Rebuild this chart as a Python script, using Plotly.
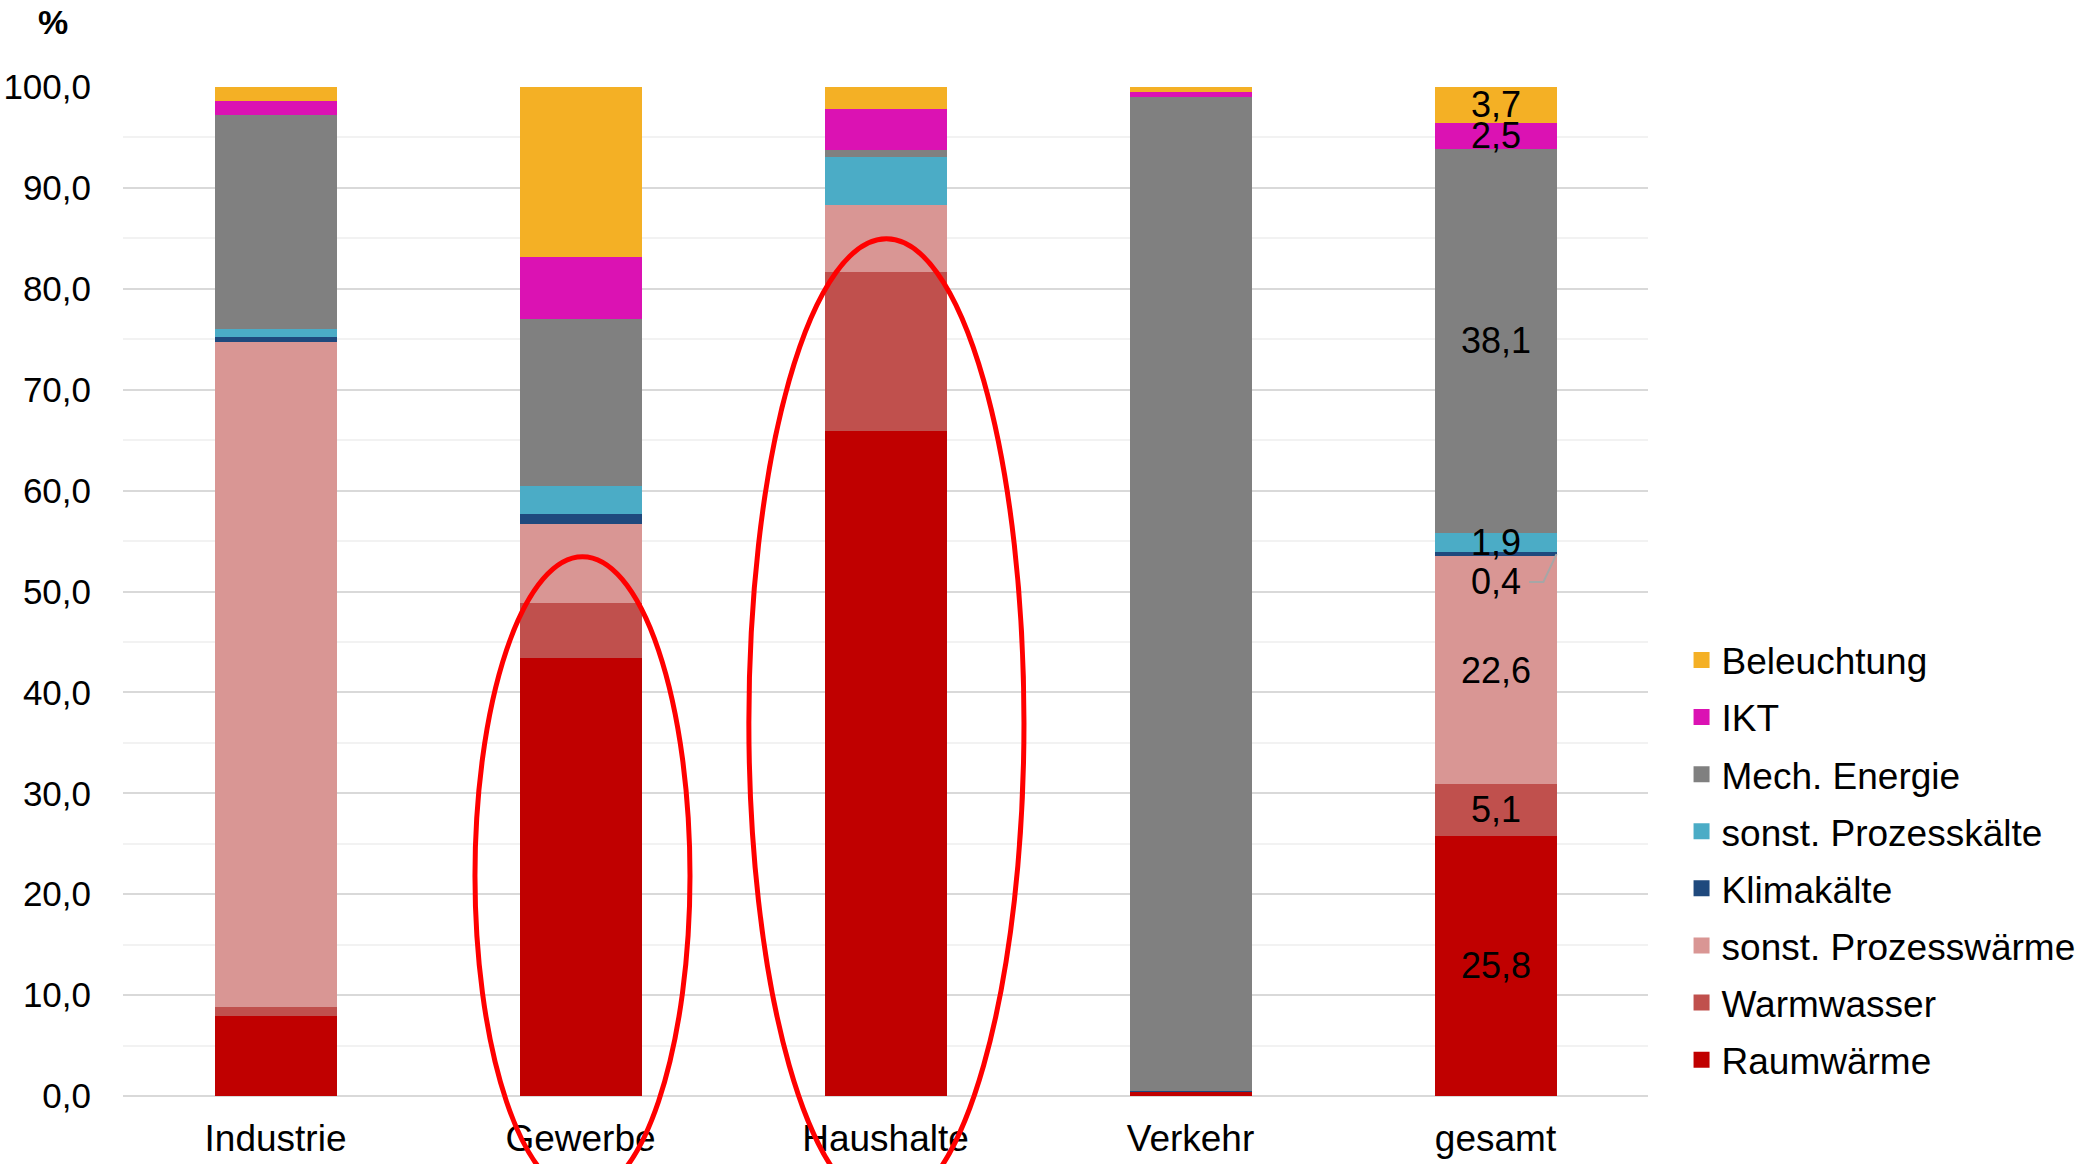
import plotly.graph_objects as go

categories = ["Industrie", "Gewerbe", "Haushalte", "Verkehr", "gesamt"]

# Series (bottom to top)
raumwaerme      = [7.9, 43.4, 65.9, 0.4, 25.8]
warmwasser      = [0.9, 5.5, 15.8, 0.0, 5.1]
prozesswaerme   = [65.9, 7.8, 6.6, 0.0, 22.6]
klimakaelte     = [0.55, 1.0, 0.0, 0.1, 0.4]
prozesskaelte   = [0.75, 2.8, 4.8, 0.0, 1.9]
mech_energie    = [21.2, 16.5, 0.7, 98.5, 38.1]
ikt             = [1.4, 6.2, 4.0, 0.5, 2.5]
beleuchtung     = [1.4, 16.8, 2.2, 0.5, 3.7]

series_names = ["Raumwärme", "Warmwasser", "sonst. Prozesswärme", "Klimakälte",
                "sonst. Prozesskälte", "Mech. Energie", "IKT", "Beleuchtung"]
series_values = [raumwaerme, warmwasser, prozesswaerme, klimakaelte,
                 prozesskaelte, mech_energie, ikt, beleuchtung]
series_colors = ["#C00000", "#C0504D", "#D99694", "#1F497D",
                 "#4BACC6", "#808080", "#DB12B3", "#F4B025"]

y_ticks = [0, 10, 20, 30, 40, 50, 60, 70, 80, 90, 100]

FONT = "Liberation Sans, Arial, sans-serif"

fig = go.Figure()
for name, vals, col in zip(series_names, series_values, series_colors):
    fig.add_trace(go.Bar(
        x=categories, y=vals, name=name,
        marker=dict(color=col, line=dict(width=0)),
        showlegend=False, hoverinfo="skip",
    ))
# legend entries (square markers), top entry = top of stack
for name, col in reversed(list(zip(series_names, series_colors))):
    fig.add_trace(go.Scatter(
        x=[None], y=[None], mode="markers", name=name, legendgroup=name,
        marker=dict(symbol="square", size=16, color=col), hoverinfo="skip",
    ))

# data labels for "gesamt"
gi = categories.index("gesamt")
cum = 0.0
for name, vals in zip(series_names, series_values):
    v = vals[gi]
    mid = cum + v / 2
    txt = f"{v:.1f}".replace(".", ",")
    if name == "Klimakälte":
        fig.add_annotation(x=gi, y=cum - 2.5, text=txt, showarrow=False,
                           font=dict(size=36, color="black", family=FONT))
        fig.add_shape(type="path", xref="x", yref="y",
                      path=f"M {gi+0.2},{mid} L {gi+0.157},{cum-2.55} L {gi+0.11},{cum-2.55}",
                      line=dict(color="#A6A6A6", width=2))
    else:
        fig.add_annotation(x=gi, y=mid, text=txt, showarrow=False,
                           font=dict(size=36, color="black", family=FONT))
    cum += v

# red ellipses (paper coords, not clipped)
fig.add_shape(type="circle", xref="paper", yref="paper",
              x0=0.2308, x1=0.3718, y0=-0.098, y1=0.5344,
              line=dict(color="#FF0000", width=5), layer="above")
fig.add_shape(type="circle", xref="paper", yref="paper",
              x0=0.4104, x1=0.5908, y0=-0.110, y1=0.8496,
              line=dict(color="#FF0000", width=5), layer="above")

# "%" label
fig.add_annotation(xref="paper", yref="paper", x=-0.0459, y=1.064, text="<b>%</b>",
                   showarrow=False, font=dict(size=34, color="black", family=FONT),
                   xanchor="center", yanchor="middle")

fig.update_layout(
    width=2081, height=1164,
    barmode="stack", bargap=0.6,
    plot_bgcolor="white", paper_bgcolor="white",
    separators=",.",
    margin=dict(l=123, r=433, t=87, b=68, autoexpand=False),
    font=dict(family=FONT, size=36, color="black"),
    showlegend=True,
    legend=dict(traceorder="grouped", x=1.022, xanchor="left", y=0.234, yanchor="middle",
                font=dict(size=37, family=FONT, color="black"),
                tracegroupgap=6, itemwidth=30, bgcolor="rgba(0,0,0,0)"),
    xaxis=dict(showgrid=False, showline=False, ticks="", tickfont=dict(size=37),
               ticklabelstandoff=17, automargin=False),
    yaxis=dict(range=[0, 100], tickvals=y_ticks, tickformat=".1f",
               showgrid=True, gridcolor="#D9D9D9", gridwidth=2,
               minor=dict(dtick=5, showgrid=True, gridcolor="#F2F2F2", gridwidth=2),
               zeroline=True, zerolinecolor="#D9D9D9", zerolinewidth=2,
               showline=False, ticks="", tickfont=dict(size=35),
               ticklabelstandoff=31, automargin=False),
)

fig.write_html("out.html")
